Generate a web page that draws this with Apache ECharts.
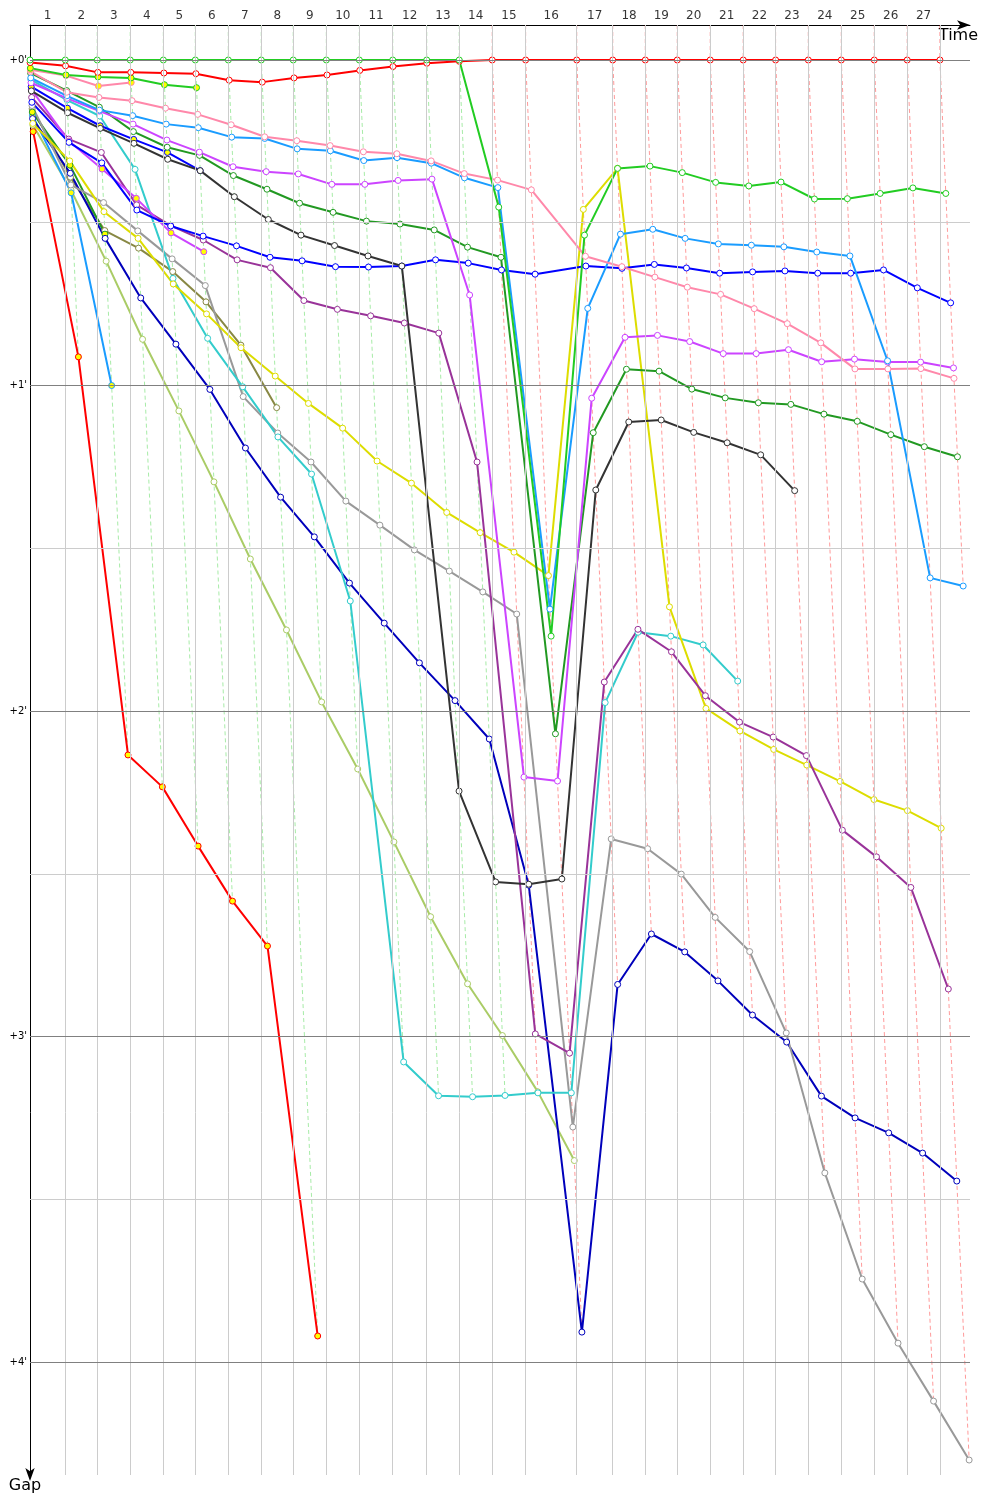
<!DOCTYPE html>
<html>
<head>
<meta charset="utf-8">
<script src="https://cdn.jsdelivr.net/npm/echarts@6/dist/echarts.min.js"></script>
<style>
  html, body { margin: 0; background: #fff; }
  #chart { width: 1000px; height: 1500px; }
</style>
</head>
<body>
<div id="chart"></div>
<script>
// leader's race time (minutes) when crossing the line, lap 0 = start
var leaderTimes = [0, 2.45, 4.67, 6.96, 9.26, 11.48, 13.77, 16.06, 18.28, 20.58, 22.87,
  25.19, 27.55, 29.81, 32.10, 34.42, 37.97, 40.47, 42.73, 44.95, 47.24,
  49.53, 51.78, 54.05, 56.34, 58.63, 60.92, 63.19];
var lapLabels = ['1','2','3','4','5','6','7','8','9','10','11','12','13','14','15','16',
  '17','18','19','20','21','22','23','24','25','26','27'];
var gapTicks = [0, 1, 2, 3, 4];
var gapHalfTicks = [0.5, 1.5, 2.5, 3.5];

// gap to the leader (minutes) after each lap, starting at lap 0
var gapLime = [0,0,0,0,0,0,0,0,0,0,0,0,0,0, 0.452,1.77,0.538,0.333,0.326,0.346,0.376,0.387,0.375,0.427,0.426,0.410,0.393,0.410];
var gapRed = [0.008,0.018,0.038,0.038,0.040,0.042,0.062,0.068,0.055,0.046,0.032,0.020,0.010,0.004, 0,0,0,0,0,0,0,0,0,0,0,0,0,0];
var gapPink = [0.035,0.099,0.115,0.125,0.148,0.167,0.199,0.236,0.248,0.263,0.282,0.288,0.310,0.349,0.369,0.399,0.603,0.635,0.667,0.698,0.720,0.764,0.810,0.869,0.949,0.949,0.948,0.978];
var gapSky = [0.055,0.110,0.154,0.171,0.197,0.208,0.237,0.241,0.273,0.279,0.309,0.300,0.317,0.362,0.392,1.687,0.763,0.535,0.520,0.548,0.565,0.569,0.574,0.590,0.602,0.924,1.591,1.616];
var gapViolet = [0.07,0.118,0.157,0.197,0.246,0.283,0.328,0.343,0.350,0.382,0.382,0.370,0.366,0.722,2.203,2.215,1.039,0.852,0.846,0.865,0.902,0.902,0.890,0.927,0.919,0.928,0.928,0.946];
var gapForest = [0.04,0.094,0.145,0.220,0.268,0.293,0.355,0.397,0.440,0.468,0.495,0.504,0.522,0.575,0.606,2.070,1.145,0.950,0.956,1.011,1.038,1.053,1.058,1.088,1.110,1.151,1.188,1.219];
var gapBlack = [0.095,0.162,0.210,0.256,0.305,0.340,0.420,0.490,0.538,0.570,0.602,0.633,2.246,2.525,2.532,2.516,1.321,1.112,1.106,1.144,1.176,1.213,1.323];
var gapBlue = [0.13,0.253,0.316,0.461,0.510,0.541,0.571,0.606,0.617,0.635,0.636,0.633,0.614,0.624,0.645,0.658,0.633,0.640,0.628,0.639,0.655,0.651,0.648,0.655,0.655,0.645,0.700,0.746];
var gapPurple = [0.115,0.243,0.284,0.445,0.509,0.553,0.614,0.638,0.739,0.766,0.786,0.808,0.839,1.235,2.992,3.051,1.911,1.749,1.818,1.953,2.034,2.080,2.137,2.366,2.448,2.542,2.854];
var gapTeal = [0.06,0.123,0.172,0.336,0.671,0.855,1.004,1.158,1.272,1.662,3.078,3.182,3.185,3.181,3.173,3.173,1.974,1.758,1.770,1.797,1.908];
var gapGrey = [0.14,0.384,0.438,0.525,0.611,0.693,1.034,1.146,1.235,1.355,1.429,1.505,1.570,1.634,1.702,3.278,2.393,2.423,2.501,2.634,2.739,2.989,3.419,3.745,3.942,4.120,4.301];
var gapYellow = [0.195,0.310,0.466,0.548,0.688,0.780,0.884,0.971,1.055,1.131,1.232,1.300,1.390,1.452,1.512,1.584,0.459,0.333,1.680,1.992,2.061,2.118,2.166,2.216,2.272,2.306,2.360];
var gapNavy = [0.18,0.348,0.548,0.731,0.873,1.012,1.192,1.343,1.465,1.607,1.730,1.852,1.968,2.086,2.535,3.908,2.840,2.685,2.740,2.829,2.934,3.017,3.183,3.250,3.296,3.358,3.444];
var gapOlive = [0.15,0.36,0.524,0.578,0.650,0.743,0.876,1.068];
var gapLeaf = [0.20,0.40,0.618,0.858,1.078,1.296,1.533,1.751,1.972,2.178,2.402,2.632,2.838,2.997,3.170,3.381];
// cars drawn with yellow markers
var gapLime2 = [0.025,0.046,0.052,0.055,0.076,0.085];
var gapPink2 = [0.03,0.048,0.080,0.069];
var gapBlue2 = [0.082,0.148,0.202,0.244,0.284,0.340];
var gapViolet2 = [0.09,0.249,0.335,0.425,0.531,0.589];
var gapSky2 = [0.17,0.408,1.0];
var gapForest2 = [0.16,0.323,0.535];
var gapRed2 = [0.22,0.912,2.135,2.233,2.415,2.584,2.722,3.920];

var cars = [
  { gaps: gapRed2, color: '#ff0000', fill: '#ffff00' },
  { gaps: gapLeaf, color: '#aacc66', fill: '#fff' },
  { gaps: gapOlive, color: '#888844', fill: '#fff' },
  { gaps: gapSky2, color: '#1a9cff', fill: '#ffff00' },
  { gaps: gapForest2, color: '#229922', fill: '#ffff00' },
  { gaps: gapNavy, color: '#0000bb', fill: '#fff' },
  { gaps: gapGrey, color: '#999999', fill: '#fff' },
  { gaps: gapTeal, color: '#33cccc', fill: '#fff' },
  { gaps: gapYellow, color: '#dddd00', fill: '#fff' },
  { gaps: gapPurple, color: '#993399', fill: '#fff' },
  { gaps: gapViolet2, color: '#cc44ff', fill: '#ffff00' },
  { gaps: gapBlue2, color: '#0000ff', fill: '#ffff00' },
  { gaps: gapBlue, color: '#0000ff', fill: '#fff' },
  { gaps: gapBlack, color: '#333333', fill: '#fff' },
  { gaps: gapForest, color: '#229922', fill: '#fff' },
  { gaps: gapViolet, color: '#cc44ff', fill: '#fff' },
  { gaps: gapSky, color: '#1a9cff', fill: '#fff' },
  { gaps: gapPink, color: '#ff88aa', fill: '#fff' },
  { gaps: gapPink2, color: '#ff88aa', fill: '#ffff00' },
  { gaps: gapLime2, color: '#22cc22', fill: '#ffff00' },
  { gaps: gapRed, color: '#ff0000', fill: '#fff' },
  { gaps: gapLime, color: '#22cc22', fill: '#fff' }
];

var timeMax = 65.28;
var gapMin = -0.1075, gapMax = 4.347;

function fade(hex, a) {
  var n = parseInt(hex.slice(1), 16);
  return 'rgba(' + (n >> 16) + ',' + ((n >> 8) & 255) + ',' + (n & 255) + ',' + a + ')';
}

var series = [];

// grid: lap lines and gap lines
var marks = [];
leaderTimes.slice(1).forEach(function (t) {
  marks.push({ xAxis: t, lineStyle: { color: '#cccccc', width: 1, type: 'solid' }, label: { show: false } });
});
gapHalfTicks.forEach(function (v) {
  marks.push({ yAxis: v, lineStyle: { color: '#cccccc', width: 1, type: 'solid' }, label: { show: false } });
});
gapTicks.forEach(function (v) {
  marks.push({
    yAxis: v, lineStyle: { color: '#808080', width: 1, type: 'solid' },
    label: { show: true, position: 'start', distance: 3, formatter: '+' + v + "'",
      fontSize: 10, color: '#000', fontFamily: 'DejaVu Sans' }
  });
});
series.push({
  type: 'line', data: [], silent: true, z: 1,
  markLine: { symbol: ['none', 'none'], silent: true, animation: false, data: marks }
});

// lap numbers above the plot
series.push({
  type: 'scatter', symbolSize: 0, clip: false, silent: true, z: 5,
  data: lapLabels.map(function (s, i) {
    return [(leaderTimes[i] + leaderTimes[i + 1]) / 2, gapMin];
  }),
  label: {
    show: true, position: 'top', distance: 3, color: '#000', fontSize: 12,
    fontFamily: 'DejaVu Sans',
    formatter: function (p) { return lapLabels[p.dataIndex]; }
  }
});

// dashed lines joining every car's crossing of the same lap
for (var lap = 1; lap < leaderTimes.length; lap++) {
  var onLap = cars.filter(function (c) { return c.gaps[lap] != null; });
  onLap.sort(function (a, b) { return a.gaps[lap] - b.gaps[lap]; });
  var t = leaderTimes[lap];
  var pts = [[t, gapMin]].concat(onLap.map(function (c) { return [t + c.gaps[lap], c.gaps[lap]]; }));
  series.push({
    type: 'line', data: pts, symbol: 'none', silent: true, z: 2,
    lineStyle: { color: fade(onLap[0].color, 0.4), width: 1, type: [4, 3] }
  });
}

// one line per car
cars.forEach(function (c) {
  series.push({
    type: 'line', z: 3,
    data: c.gaps.map(function (g, i) { return [leaderTimes[i] + g, g]; }),
    symbol: 'circle', symbolSize: 6, showAllSymbol: true,
    lineStyle: { color: c.color, width: 2 },
    itemStyle: { color: c.fill, borderColor: c.color, borderWidth: 1 }
  });
});

var chart = echarts.init(document.getElementById('chart'));
chart.setOption({
  animation: false,
  backgroundColor: '#fff',
  grid: { left: 30, right: 30, top: 25, bottom: 25, containLabel: false },
  xAxis: {
    type: 'value', min: 0, max: timeMax, position: 'top',
    axisLine: { show: true, onZero: false, lineStyle: { color: '#000', width: 1 },
      symbol: ['none', 'arrow'], symbolSize: [7, 13] },
    axisTick: { show: false }, axisLabel: { show: false }, splitLine: { show: false },
    name: 'Time', nameLocation: 'end', nameGap: 8,
    nameTextStyle: { color: '#000', fontSize: 16, fontFamily: 'DejaVu Sans',
      align: 'right', verticalAlign: 'top', padding: [3, 0, 0, 0] }
  },
  yAxis: {
    type: 'value', inverse: true, min: gapMin, max: gapMax,
    axisLine: { show: true, onZero: false, lineStyle: { color: '#000', width: 1 },
      symbol: ['arrow', 'none'], symbolSize: [7, 13], symbolOffset: [-6, 0] },
    axisTick: { show: false }, axisLabel: { show: false }, splitLine: { show: false },
    name: 'Gap', nameLocation: 'end', nameGap: 3,
    nameTextStyle: { color: '#000', fontSize: 16, fontFamily: 'DejaVu Sans',
      align: 'center', verticalAlign: 'top', padding: [0, 10, 0, 0] }
  },
  series: series
});
</script>
</body>
</html>
